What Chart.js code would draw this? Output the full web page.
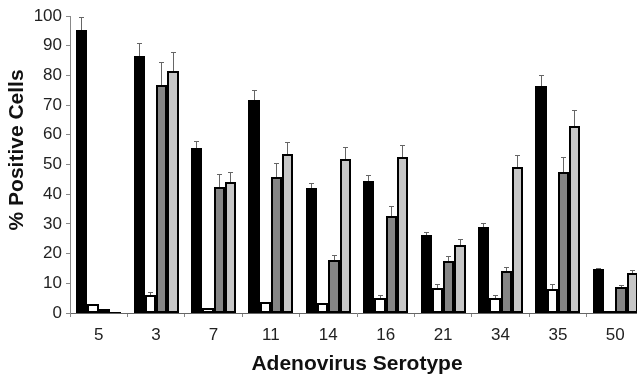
<!DOCTYPE html>
<html>
<head>
<meta charset="utf-8">
<script src="https://cdn.jsdelivr.net/npm/chart.js@4/dist/chart.umd.min.js"></script>
<style>
  html, body { margin: 0; padding: 0; background: #fff; overflow: hidden; }
  #wrap { width: 650px; height: 382px; }
</style>
</head>
<body>
<div id="wrap"><canvas id="c" width="650" height="382"></canvas></div>
<script>
const categories = ['5', '3', '7', '11', '14', '16', '21', '34', '35', '50'];
const blackValues = [95.3, 86.5, 55.7, 71.7, 42.0, 44.4, 26.3, 28.9, 76.4, 14.7];
const blackErrors = [4.5, 4.3, 2.2, 3.4, 1.9, 2.0, 1.1, 1.5, 3.7, 0.6];
const whiteValues = [3.0, 6.1, 1.6, 3.8, 3.5, 4.9, 8.3, 4.9, 8.0, 0.7];
const whiteErrors = [0, 1.1, 0, 0, 0, 1.1, 1.5, 1.2, 1.8, 0];
const darkValues = [1.3, 76.8, 42.5, 45.7, 17.8, 32.7, 17.5, 14.3, 47.4, 8.7];
const darkErrors = [0, 7.8, 4.2, 4.7, 1.7, 3.4, 1.7, 1.3, 5.0, 0.7];
const lightValues = [0.4, 81.5, 44.2, 53.4, 51.7, 52.6, 22.9, 49.3, 63.1, 13.4];
const lightErrors = [0, 6.3, 3.4, 4.3, 4.3, 4.0, 1.9, 3.9, 5.3, 1.1];
const yTicks = [0, 10, 20, 30, 40, 50, 60, 70, 80, 90, 100];

const FONT = "'Liberation Sans', Arial, sans-serif";

// snap the library-computed bar rectangles to whole pixels (no seams between adjacent bars)
const snapPlugin = {
  id: 'snapBars',
  beforeDatasetsDraw(chart) {
    chart.data.datasets.forEach((ds, i) => {
      chart.getDatasetMeta(i).data.forEach(bar => {
        const l = Math.round(bar.x - bar.width / 2);
        const r = Math.round(bar.x + bar.width / 2);
        bar.x = (l + r) / 2;
        bar.width = r - l;
        bar.y = Math.round(bar.y);
        bar.base = Math.round(bar.base);
      });
    });
  }
};

const errorBarPlugin = {
  id: 'errorBars',
  afterDatasetsDraw(chart) {
    const ctx = chart.ctx;
    const yScale = chart.scales.y;
    ctx.save();
    ctx.strokeStyle = '#666';
    ctx.lineWidth = 1;
    chart.data.datasets.forEach((ds, i) => {
      const meta = chart.getDatasetMeta(i);
      meta.data.forEach((bar, j) => {
        const err = ds.errors[j];
        if (!err) return;
        const yTop = bar.y;
        const yErr = Math.round(yScale.getPixelForValue(ds.data[j] + err)) + 0.5;
        const x = Math.floor(bar.x) + 0.5;
        ctx.beginPath();
        ctx.moveTo(x, yTop);
        ctx.lineTo(x, yErr);
        ctx.moveTo(x - 2.5, yErr);
        ctx.lineTo(x + 2.5, yErr);
        ctx.stroke();
      });
    });
    ctx.restore();
  }
};

const mk = (label, data, errors, color) => ({
  label, data, errors,
  backgroundColor: color,
  borderColor: '#000',
  borderWidth: 2,
  borderSkipped: false,
  inflateAmount: 0,
  categoryPercentage: 0.785,
  barPercentage: 1.0
});

new Chart(document.getElementById('c'), {
  type: 'bar',
  data: {
    labels: categories,
    datasets: [
      mk('black', blackValues, blackErrors, '#000000'),
      mk('white', whiteValues, whiteErrors, '#ffffff'),
      mk('dark', darkValues, darkErrors, '#858585'),
      mk('light', lightValues, lightErrors, '#c6c6c6')
    ]
  },
  options: {
    responsive: false,
    animation: false,
    devicePixelRatio: 1,
    layout: { padding: { top: 16, right: 6, left: 0, bottom: 0 } },
    plugins: { legend: { display: false }, tooltip: { enabled: false } },
    scales: {
      x: {
        grid: { display: true, drawOnChartArea: false, tickLength: 4, color: '#888', offset: true },
        border: { display: true, color: '#666', width: 1 },
        ticks: { color: '#222', font: { family: FONT, size: 17 }, padding: 8 },
        title: { display: true, text: 'Adenovirus Serotype', color: '#111',
                 font: { family: FONT, size: 21, weight: 'bold' }, padding: { top: 0, bottom: 5 } },
        afterFit(scale) { scale.height = 69; }
      },
      y: {
        min: 0, max: 100,
        afterBuildTicks(scale) { scale.ticks = yTicks.map(v => ({ value: v })); },
        grid: { display: true, drawOnChartArea: false, tickLength: 4, color: '#888' },
        border: { display: true, color: '#888', width: 1 },
        ticks: { color: '#222', font: { family: FONT, size: 17 }, padding: 4 },
        title: { display: true, text: '     % Positive Cells', color: '#111',
                 font: { family: FONT, size: 21, weight: 'bold' }, padding: { top: 5, bottom: 0 } },
        afterFit(scale) { scale.width = 70; }
      }
    }
  },
  plugins: [snapPlugin, errorBarPlugin]
});
</script>
</body>
</html>
